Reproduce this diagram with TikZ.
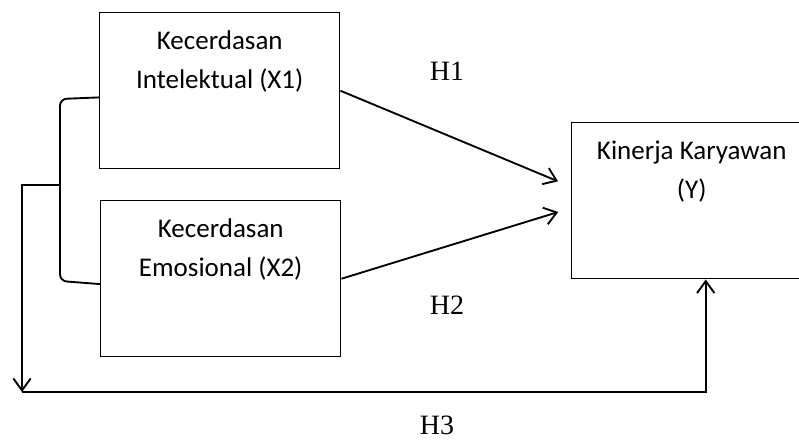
\documentclass[tikz,border=0pt]{standalone}
\usepackage{fontspec}
\setmainfont{Liberation Serif}
\newfontfamily\boxfont{Carlito}
\usetikzlibrary{arrows.meta}
\begin{document}
\begin{tikzpicture}[x=0.75pt, y=-0.75pt,
        varbox/.style={draw, line width=1.1pt, minimum width=180pt, minimum height=117pt,
            inner sep=0pt, anchor=north west},
        varlabel/.style={anchor=north, yshift=-14pt, inner sep=0pt, align=center,
            font=\boxfont\fontsize{20.25}{29.25}\selectfont},
        path/.style={line width=1.4pt, -{Straight Barb[length=9pt, width=13pt, line width=1.4pt]}},
        hyp/.style={font=\fontsize{21}{25}\selectfont, inner sep=1pt}]
        \useasboundingbox (0, 0) rectangle (799, 440);

        \node[varbox, label={[varlabel]north:Kecerdasan\\Intelektual (X1)}] (x1) at (99, 12) {};
        \node[varbox, label={[varlabel]north:Kecerdasan\\Emosional (X2)}] (x2) at (100, 200) {};
        \node[varbox, label={[varlabel]north:Kinerja Karyawan\\(Y)}] (y) at (571, 122) {};

        \node[hyp] (h1) at (447, 71) {H1};
        \node[hyp] (h2) at (447, 305) {H2};
        \node[hyp] (h3) at (437, 425) {H3};

        % bracket joining X1 and X2
        \coordinate (brk) at (60, 185);
        \coordinate (turn) at (22, 392);
        \draw[line width=1.4pt, rounded corners=5pt]
            ([yshift=-5pt]x1.west) -- (60, 99) -- (60, 281) -- ([yshift=-4pt]x2.west);

        \draw[path, shorten >=10.5pt] (x1.east) -- ([yshift=10.5pt]y.west);
        \draw[path, shorten >=10pt] (x2.east) -- ([yshift=-5.5pt]y.west);
        \draw[path] (brk) -| (turn);
        \draw[path] (turn) -| ([xshift=10.5pt]y.south);
    \end{tikzpicture}
\end{document}
